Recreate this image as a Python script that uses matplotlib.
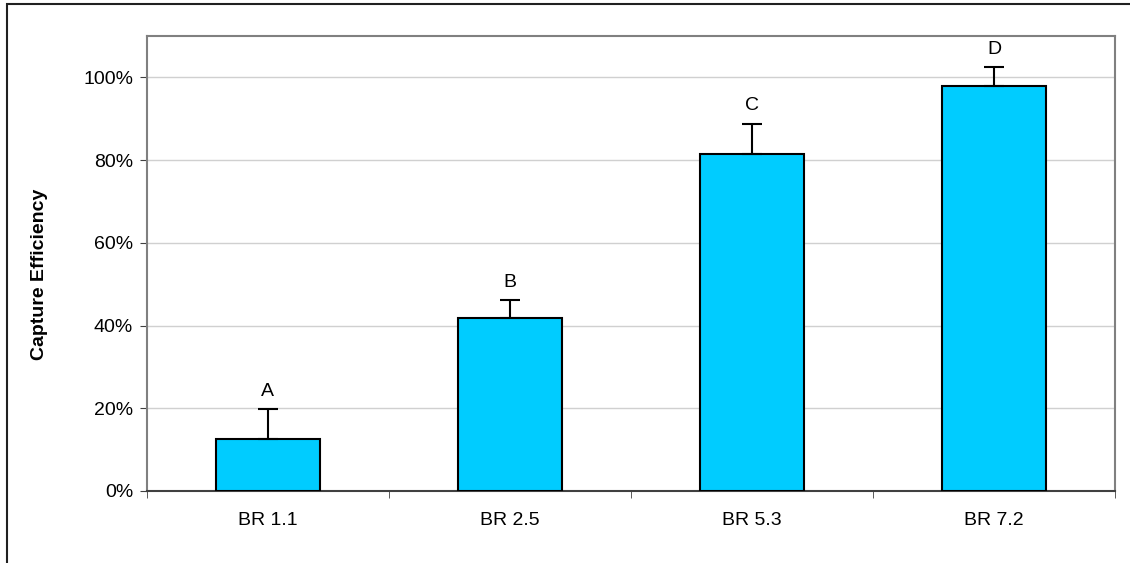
import matplotlib.pyplot as plt
from matplotlib.patches import Rectangle
from matplotlib.ticker import PercentFormatter

plt.rcParams['font.family'] = ['Liberation Sans', 'DejaVu Sans']

categories = ['BR 1.1', 'BR 2.5', 'BR 5.3', 'BR 7.2']
efficiency = [12.5, 41.8, 81.5, 98.0]
err_upper = [7.3, 4.3, 7.3, 4.4]
letters = ['A', 'B', 'C', 'D']

fig = plt.figure(figsize=(11.3, 5.63), dpi=100)
ax = fig.add_axes([0.130, 0.128, 0.857, 0.808])

x = list(range(len(categories)))
ax.bar(x, efficiency, width=0.43, color='#00CCFF', edgecolor='black', linewidth=1.5, zorder=3)
ax.errorbar(x, efficiency, yerr=[[0] * 4, err_upper], fmt='none', ecolor='black',
            elinewidth=1.5, capsize=7, capthick=1.5, zorder=4)

for xi, v, e, t in zip(x, efficiency, err_upper, letters):
    ax.text(xi, v + e + 2.3, t, ha='center', va='bottom', fontsize=14)

ax.set_xlim(-0.5, 3.5)
ax.set_ylim(0, 110)
ax.set_yticks(range(0, 101, 20))
ax.yaxis.set_major_formatter(PercentFormatter(decimals=0))
ax.set_xticks(x)
ax.set_xticklabels(categories)
ax.set_xticks([-0.5, 0.5, 1.5, 2.5, 3.5], minor=True)
ax.tick_params(axis='x', which='major', length=0, pad=15, labelsize=14)
ax.tick_params(axis='x', which='minor', length=5, color='#404040')
ax.tick_params(axis='y', length=5, color='#404040', labelsize=14, pad=5)

ax.grid(axis='y', color='#D0D0D0', linewidth=1, zorder=0)
for side in ['top', 'right', 'left']:
    ax.spines[side].set_color('#808080')
    ax.spines[side].set_linewidth(1.5)
ax.spines['bottom'].set_color('#404040')
ax.spines['bottom'].set_linewidth(1.5)

ax.set_ylabel('Capture Efficiency', fontsize=14, fontweight='bold')
ax.yaxis.set_label_coords(-0.102, 0.477)

# outer chart border
fig.patches.append(Rectangle((0.0065, -0.05), 1.1, 1.043, transform=fig.transFigure,
                             fill=False, edgecolor='#202020', linewidth=1.5))

fig.savefig('out.png', dpi=100)
